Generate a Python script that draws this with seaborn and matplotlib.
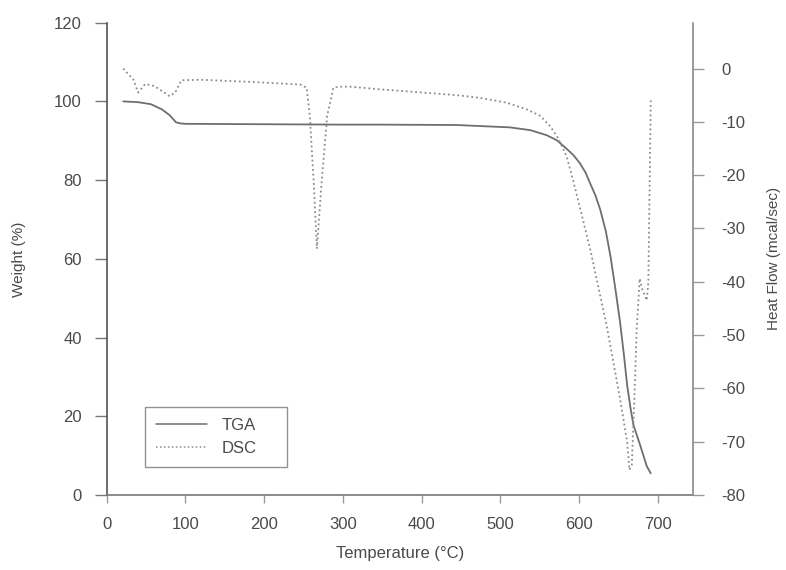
"""TGA / DSC thermogram with twin y axes."""

import matplotlib
matplotlib.use("Agg")
import matplotlib.pyplot as plt
from matplotlib.lines import Line2D
import pandas as pd
import seaborn as sns

# TGA: weight (%) vs temperature (°C)
tga_temp = [21, 40, 56, 70, 80, 88, 94, 100, 200, 300, 347, 445, 512, 538, 559, 572,
            584, 593, 601, 608, 614, 621, 627, 634, 640, 646, 652, 657, 661, 665, 669,
            677, 686, 691]
tga_weight = [100.0, 99.8, 99.3, 98.0, 96.5, 94.7, 94.4, 94.3, 94.2, 94.1, 94.1, 94.0,
              93.4, 92.7, 91.4, 90.1, 88.0, 86.3, 84.3, 82.0, 79.2, 76.0, 72.4, 67.0,
              60.5, 52.5, 44.0, 35.5, 28.0, 22.5, 17.8, 13.0, 7.3, 5.5]

# DSC: heat flow (mcal/sec) vs temperature (°C)
dsc_temp = [21, 34, 40, 49, 61, 80, 87, 95, 119, 182, 246, 254, 258, 263, 267, 273,
            280, 288, 296, 309, 347, 445, 474, 508, 534, 551, 563, 572, 584, 593, 614,
            635, 652, 661, 664, 667, 671, 673, 677, 680, 686, 688, 691]
dsc_flow = [0.0, -2.1, -4.5, -2.9, -3.3, -5.2, -4.5, -2.2, -2.1, -2.5, -3.0, -3.6, -8.9,
            -21.4, -33.8, -21.4, -8.9, -3.6, -3.4, -3.4, -3.9, -5.0, -5.5, -6.4, -7.7,
            -8.9, -10.8, -12.7, -16.4, -21.3, -33.8, -48.2, -61.9, -70.0, -75.3, -74.3,
            -58.7, -49.4, -39.4, -41.3, -43.5, -40.0, -6.0]

weight_ticks = [0, 20, 40, 60, 80, 100, 120]
flow_ticks = [0, -10, -20, -30, -40, -50, -60, -70, -80]
temp_ticks = [0, 100, 200, 300, 400, 500, 600, 700]

TEXT = "#4a4a4a"
TGA_COLOR = "#6e6e6e"
DSC_COLOR = "#8c8c8c"

sns.set_style("ticks")
plt.rcParams["font.family"] = ["Liberation Sans", "DejaVu Sans"]
plt.rcParams["axes.unicode_minus"] = False

tga = pd.DataFrame({"temp": tga_temp, "weight": tga_weight})
dsc = pd.DataFrame({"temp": dsc_temp, "flow": dsc_flow})

fig = plt.figure(figsize=(7.86, 5.70), dpi=100)
ax = fig.add_axes([0.1357, 0.1316, 0.7463, 0.8286])
ax2 = ax.twinx()

sns.lineplot(data=tga, x="temp", y="weight", ax=ax, color=TGA_COLOR,
             linewidth=1.3, sort=False)
sns.lineplot(data=dsc, x="temp", y="flow", ax=ax2, color=DSC_COLOR,
             linewidth=1.3, linestyle=(0, (1, 1.6)), sort=False)

ax.set_xlim(0, 745)
ax.set_ylim(0, 120)
ax2.set_ylim(-80, 8.6)
ax.set_xticks(temp_ticks)
ax.set_yticks(weight_ticks)
ax2.set_yticks(flow_ticks)

ax.set_xlabel("Temperature (°C)", fontsize=12, color=TEXT, labelpad=10)
ax.set_ylabel("Weight (%)", fontsize=11, color=TEXT, labelpad=20)
ax2.set_ylabel("Heat Flow (mcal/sec)", fontsize=11, color=TEXT, labelpad=16)

for spine in ["top", "right"]:
    ax.spines[spine].set_visible(False)
for spine in ["top", "left", "bottom"]:
    ax2.spines[spine].set_visible(False)
ax.spines["left"].set_color("#555555")
ax.spines["bottom"].set_color("#777777")
ax2.spines["right"].set_color("#8a8a8a")
for s in list(ax.spines.values()) + list(ax2.spines.values()):
    s.set_linewidth(1.2)

ax.tick_params(axis="y", direction="out", length=9, width=1, colors="#777777",
               labelcolor=TEXT, labelsize=12, pad=9)
ax.tick_params(axis="x", direction="out", length=6, width=1, colors="#999999",
               labelcolor=TEXT, labelsize=12, pad=10)
ax2.tick_params(axis="y", direction="out", length=8, width=1, colors="#999999",
                labelcolor=TEXT, labelsize=12, pad=12)

handles = [Line2D([], [], color=TGA_COLOR, linewidth=1.1),
           Line2D([], [], color=DSC_COLOR, linewidth=1.1, linestyle=(0, (1, 1.6)))]
leg = ax2.legend(handles, ["TGA", "DSC"], loc="lower left",
                 bbox_to_anchor=(0.065, 0.059, 0.242, 0.13), mode="expand",
                 borderaxespad=0, fontsize=12,
                 frameon=True, fancybox=False, handlelength=3.1, handletextpad=0.85,
                 borderpad=0.65, labelspacing=0.5, labelcolor=TEXT)
leg.get_frame().set_edgecolor("#777777")
leg.get_frame().set_linewidth(1.0)

fig.savefig("out.png", dpi=100)
